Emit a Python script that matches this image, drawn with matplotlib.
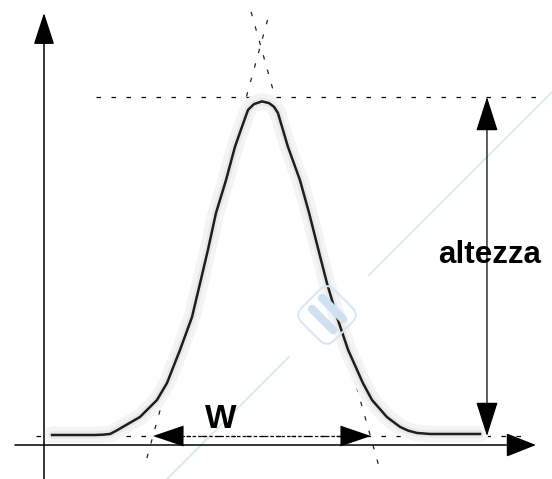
import matplotlib
matplotlib.use("Agg")
import matplotlib.pyplot as plt
from matplotlib.patches import FancyBboxPatch
from matplotlib.transforms import Affine2D

plt.rcParams["lines.scale_dashes"] = False
plt.rcParams["font.family"] = ["Liberation Sans", "DejaVu Sans"]

# Chromatographic peak: time (arbitrary units) vs detector signal (peak height = 1)
peak_t = [0.37, 1.65, 2.34, 2.71, 3.03, 3.30, 3.62, 4.40, 5.18, 5.64, 6.24, 6.79,
          7.16, 7.52, 7.89, 8.35, 8.76, 9.08, 9.36, 9.63, 10.00, 10.32, 10.55,
          10.73, 11.19, 11.74, 12.16, 12.66, 12.98, 13.44, 13.95, 14.63, 15.05,
          15.73, 16.33, 16.70, 17.11, 17.71, 18.62, 20.00]
peak_s = [0.003, 0.003, 0.003, 0.004, 0.006, 0.015, 0.027, 0.056, 0.106, 0.156,
          0.254, 0.351, 0.451, 0.549, 0.658, 0.755, 0.853, 0.912, 0.962, 0.979,
          0.987, 0.982, 0.971, 0.953, 0.853, 0.755, 0.658, 0.531, 0.451, 0.351,
          0.254, 0.156, 0.106, 0.056, 0.027, 0.016, 0.009, 0.006, 0.006, 0.006]

# Tangents through the inflection points
tan_left_t = [4.72, 10.28]
tan_left_s = [-0.065, 1.233]
tan_right_t = [9.50, 15.37]
tan_right_s = [1.251, -0.091]

baseline = 0.0
height = 1.0
baseline_t = [-0.35, 21.95]
top_t = [2.39, 22.57]
w_start, w_end = 5.0, 15.0
height_t = 20.32
label_height = "altezza"
label_width = "W"

fig = plt.figure(figsize=(5.52, 4.79), dpi=100)
ax = fig.add_axes([0, 0, 1, 1])
ax.set_xlim(-2.018, 23.303)
ax.set_ylim(-0.1268, 1.2861)
ax.axis("off")


def px(xp, yp):
    """Figure pixel position (from the top-left corner) to data units."""
    return ((xp - 44) / 21.8, (436 - yp) / 339)


# faint watermark: diagonal line and rounded badge
wm = "#d6e6f5"
for (a, b) in [((167, 479), (289, 357)), ((369, 275), (553, 91))]:
    (x0, y0), (x1, y1) = px(*a), px(*b)
    ax.plot([x0, x1], [y0, y1], color=wm, lw=1.3, zorder=1)
badge_tr = Affine2D().rotate_deg_around(327, 315, 45) + Affine2D().scale(1, -1).translate(0, 479)
badge = FancyBboxPatch((304, 292), 46, 46, boxstyle="round,pad=0,rounding_size=10",
                       fc="none", ec=wm, lw=1.4, transform=badge_tr, zorder=1)
fig.add_artist(badge)
for (a, b) in [((312, 309), (333, 330)), ((322, 298), (343, 319))]:
    fig.add_artist(plt.Line2D([a[0] / 552, b[0] / 552], [1 - a[1] / 479, 1 - b[1] / 479],
                              color="#cfe0f0", lw=6, solid_capstyle="round", zorder=1))

# dashed guides
dash = (0, (3.2, 7.6))
ax.plot(baseline_t, [baseline, baseline], color="black", lw=0.9, linestyle=dash, zorder=2)
ax.plot(top_t, [height, height], color="black", lw=0.9, linestyle=dash, zorder=2)
ax.plot(tan_left_t, tan_left_s, color="#222222", lw=0.9, linestyle=dash, zorder=2)
ax.plot(tan_right_t, tan_right_s, color="#222222", lw=0.9, linestyle=dash, zorder=2)

# peak with its grainy halo
ax.plot(peak_t, peak_s, color="#f4f4f4", lw=12, solid_joinstyle="round",
        solid_capstyle="round", zorder=3)
ax.plot(peak_t, peak_s, color="#e9e9e9", lw=5.5, solid_joinstyle="round",
        solid_capstyle="round", zorder=3)
ax.plot(peak_t, peak_s, color="#1e1e1e", lw=1.8, solid_joinstyle="round", zorder=4)

# coordinate axes
ax_y = (436 - 445) / 339
ax.annotate("", xy=(22.57, ax_y), xytext=(-1.33, ax_y),
            arrowprops=dict(arrowstyle="-|>,head_length=19,head_width=7.5", mutation_scale=1,
                            lw=1.1, color="black", shrinkA=0, shrinkB=0), zorder=5)
ax.annotate("", xy=(0, 1.248), xytext=(0, -0.13),
            arrowprops=dict(arrowstyle="-|>,head_length=20,head_width=6.5", mutation_scale=1,
                            lw=1.1, color="black", shrinkA=0, shrinkB=0), zorder=5)

# width arrow: dashed shaft and two solid heads
ax.plot([w_start + 1.3, w_end - 1.2], [baseline, baseline], color="black", lw=0.9,
        linestyle=(0, (2.5, 1.5)), zorder=5)
w_mid = (w_start + w_end) / 2
for tip in (w_start, w_end):
    ax.annotate("", xy=(tip, baseline), xytext=(w_mid, baseline),
                arrowprops=dict(arrowstyle="-|>,head_length=22,head_width=7.5", mutation_scale=1,
                                lw=0, color="black", shrinkA=0, shrinkB=0), zorder=6)

# height arrow
ax.annotate("", xy=(height_t, height), xytext=(height_t, baseline),
            arrowprops=dict(arrowstyle="<|-|>,head_length=22,head_width=7", mutation_scale=1,
                            lw=0.9, color="black", shrinkA=0, shrinkB=0), zorder=5)

ax.text(height_t + 0.12, 0.510, label_height, fontsize=22.6, fontweight="bold",
        ha="center", va="baseline", color="black", zorder=7)
ax.text(8.12, 0.024, label_width, fontsize=24, fontweight="bold",
        ha="center", va="baseline", color="black", zorder=7)

fig.savefig("out.png", dpi=100)
